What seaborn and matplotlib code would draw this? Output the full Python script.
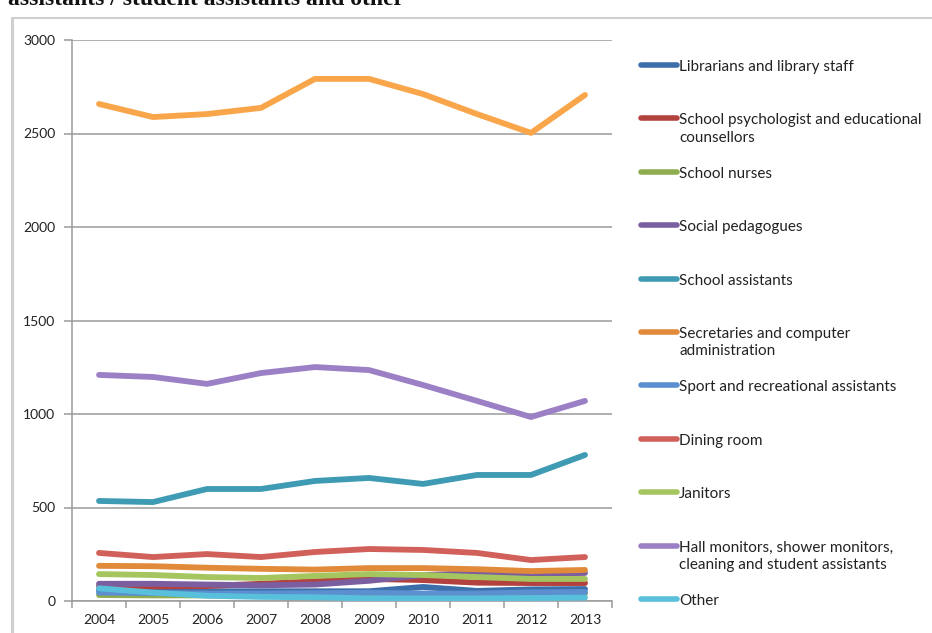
import matplotlib
matplotlib.use("Agg")
import matplotlib.pyplot as plt
import seaborn as sns
import pandas as pd
from matplotlib.lines import Line2D

years = [2004, 2005, 2006, 2007, 2008, 2009, 2010, 2011, 2012, 2013]

librarians = [58, 55, 52, 52, 52, 52, 75, 54, 62, 64]
psychologists = [78, 78, 80, 92, 105, 118, 112, 98, 96, 96]
nurses = [32, 30, 30, 30, 28, 22, 36, 30, 42, 40]
social_pedagogues = [92, 92, 88, 84, 88, 108, 138, 150, 146, 150]
school_assistants = [535, 529, 599, 599, 642, 658, 626, 674, 674, 781]
secretaries = [188, 186, 178, 172, 168, 176, 176, 170, 160, 166]
sport = [45, 42, 40, 40, 42, 44, 40, 40, 46, 48]
dining = [257, 235, 251, 235, 262, 278, 273, 257, 219, 235]
janitors = [144, 139, 128, 123, 134, 144, 139, 128, 118, 118]
hall_monitors = [1209, 1198, 1161, 1219, 1251, 1235, 1155, 1070, 984, 1070]
other = [68, 45, 28, 22, 20, 14, 14, 14, 16, 18]
total = [2658, 2588, 2604, 2637, 2792, 2792, 2711, 2604, 2503, 2706]

legend_labels = [
    "Librarians and library staff",
    "School psychologist and educational\ncounsellors",
    "School nurses",
    "Social pedagogues",
    "School assistants",
    "Secretaries and computer\nadministration",
    "Sport and recreational assistants",
    "Dining room",
    "Janitors",
    "Hall monitors, shower monitors,\ncleaning and student assistants",
    "Other",
]
series_values = [librarians, psychologists, nurses, social_pedagogues, school_assistants,
                 secretaries, sport, dining, janitors, hall_monitors, other]
colors = ["#3C6EAA", "#B3423F", "#8FAD4F", "#7B5EA0", "#3E9BB3",
          "#E08A3A", "#5B8FD0", "#D2605A", "#A5C55F", "#9B80C6", "#58C0DB"]
total_label = "Total"
total_color = "#F9A64B"

rows = []
for lab, vals in zip(legend_labels, series_values):
    for y, v in zip(years, vals):
        rows.append({"year": y, "value": v, "series": lab})
for y, v in zip(years, total):
    rows.append({"year": y, "value": v, "series": total_label})
df = pd.DataFrame(rows)

sns.set_style("white")
plt.rcParams["font.family"] = ["Lato", "DejaVu Sans"]

W, H = 932, 633
fig = plt.figure(figsize=(W / 100, H / 100), dpi=100)
ax = fig.add_axes([72 / W, (H - 601) / H, (612 - 72) / W, (601 - 40) / H])

palette = dict(zip(legend_labels, colors))
palette[total_label] = total_color
order = legend_labels + [total_label]
sns.lineplot(data=df, x="year", y="value", hue="series", hue_order=order,
             palette=palette, ax=ax, linewidth=4.2, legend=False,
             solid_capstyle="round", solid_joinstyle="round", zorder=3)

ax.set_xlim(2003.5, 2013.5)
ax.set_ylim(0, 3000)
ax.set_yticks([0, 500, 1000, 1500, 2000, 2500, 3000])
ax.set_yticklabels(["0", "500", "1000", "1500", "2000", "2500", "3000"])
ax.set_xticks(years)
ax.set_xticklabels([str(y) for y in years])
ax.set_xticks([y + 0.5 for y in [2003] + years], minor=True)
ax.set_xlabel("")
ax.set_ylabel("")
ax.grid(axis="y", color="#9A9A9A", linewidth=1.1, zorder=0)
ax.grid(axis="x", visible=False)
for s in ["top", "right"]:
    ax.spines[s].set_visible(False)
for s in ["left", "bottom"]:
    ax.spines[s].set_color("#9A9A9A")
    ax.spines[s].set_linewidth(1.1)
ax.tick_params(axis="y", which="major", left=True, length=6, color="#9A9A9A",
               width=1.1, labelsize=10, labelcolor="#222222", pad=6)
ax.tick_params(axis="x", which="major", bottom=False, labelsize=10,
               labelcolor="#222222", pad=6)
ax.tick_params(axis="x", which="minor", bottom=True, length=5, color="#9A9A9A", width=1.1)

# legend drawn as figure items
for i, (lab, col) in enumerate(zip(legend_labels, colors)):
    yp = 65 + 53.4 * i
    fy = 1 - yp / H
    fig.add_artist(Line2D([641 / W, 677 / W], [fy, fy], color=col, linewidth=4.0,
                          solid_capstyle="round", transform=fig.transFigure))
    fig.text(679 / W, 1 - (yp - 5) / H, lab, fontsize=11, color="#222222",
             va="top", ha="left", linespacing=1.3)

# frame of the chart container
fig.add_artist(Line2D([12 / W, 12 / W], [0, 1 - 18 / H], color="#CFCFCF",
                      linewidth=2.2, transform=fig.transFigure))
fig.add_artist(Line2D([12 / W, 1], [1 - 18 / H, 1 - 18 / H], color="#CFCFCF",
                      linewidth=1.5, transform=fig.transFigure))

# cropped title
fig.text(8 / W, 1 - 5 / H, "assistants / student assistants and other",
         fontsize=17, fontweight="bold", family=["Liberation Serif"],
         va="baseline", ha="left", color="#111111")

fig.savefig("out.png", dpi=100)
